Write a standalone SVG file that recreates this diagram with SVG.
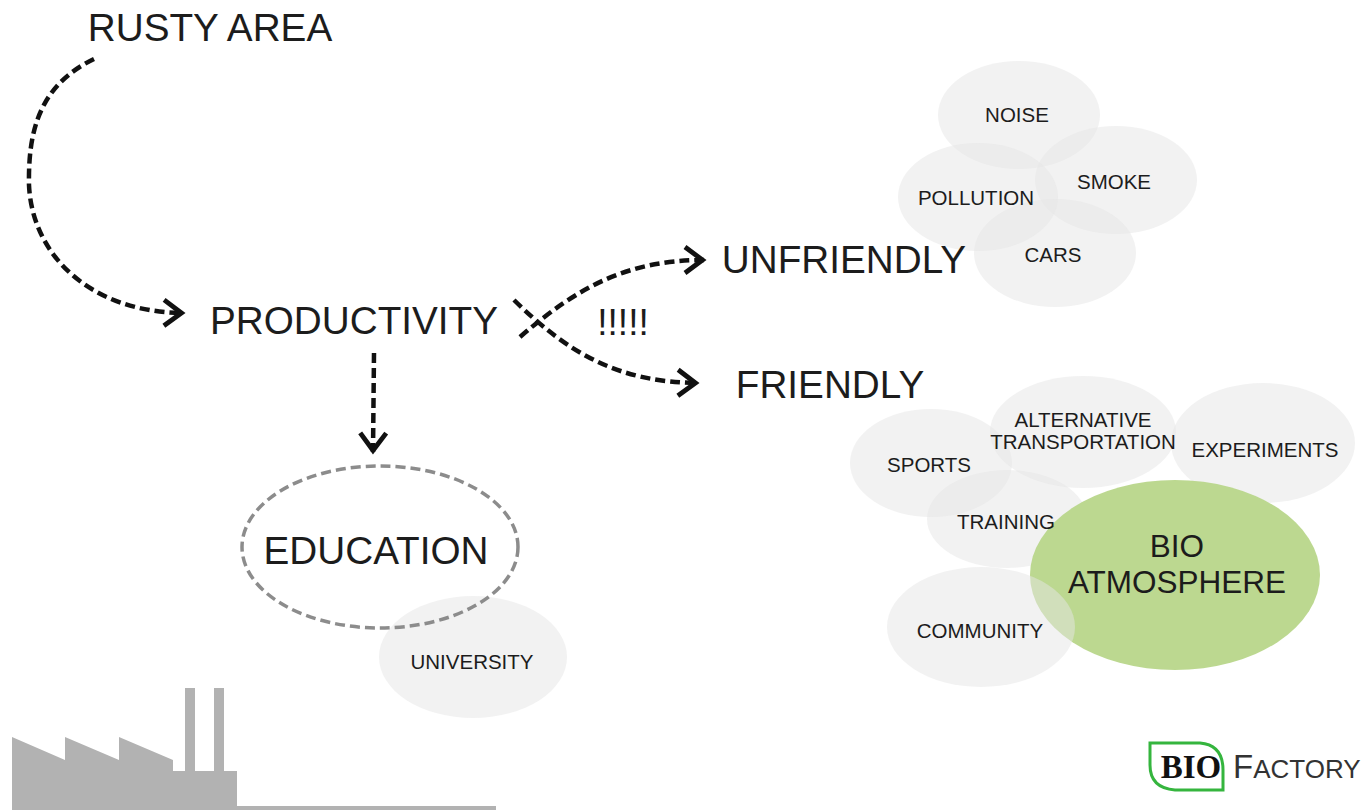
<svg xmlns="http://www.w3.org/2000/svg" width="1364" height="811" viewBox="0 0 1364 811">
<defs>
<marker id="arr" markerUnits="userSpaceOnUse" markerWidth="30" markerHeight="34" refX="27" refY="15" orient="auto" overflow="visible"><path d="M8 2 L25.500 15 L8 28" fill="none" stroke="#111" stroke-width="4.800"/></marker>
</defs>
<style>
text{font-family:"Liberation Sans",Arial,sans-serif;fill:#1c1c1c;text-anchor:middle}
.big{font-size:38.700px}
.sm{font-size:20.500px}
.bm{font-size:31.500px}
.b{fill:#e6e6e6;fill-opacity:.5}
.c{fill:none;stroke:#111;stroke-width:4.500;stroke-dasharray:10 5}
</style>
<rect width="1364" height="811" fill="#fff"/>
<g id="factory"><path d="M12 737 L65 760 L65 737 L119 760 L119 737 L173 760 L173 771 L185 771 L185 688 L195 688 L195 771 L214 771 L214 688 L224 688 L224 771 L237 771 L237 806 L496 806 L496 810 L12 810 Z" fill="#b2b2b2"/></g>
<g id="connectors">
<path class="c" d="M94 59 C40 85 28 130 29 185 C32 255 90 312 183 313" marker-end="url(#arr)"/>
<path class="c" d="M374 353 L373 452" marker-end="url(#arr)"/>
<path class="c" d="M520 337 C580 285 630 260 704 260" marker-end="url(#arr)"/>
<path class="c" d="M514 300 C570 355 620 382 697 383" marker-end="url(#arr)"/>
</g>
<g id="rusty"><text class="big" x="210" y="40.500">RUSTY AREA</text></g>
<g id="productivity"><text class="big" x="354" y="333.500">PRODUCTIVITY</text></g>
<g id="marks"><text x="623" y="335" font-size="37">!!!!!</text></g>
<g id="noise"><ellipse class="b" cx="1019" cy="115" rx="81" ry="54"/><text class="sm" x="1017" y="122">NOISE</text></g>
<g id="smoke"><ellipse class="b" cx="1116" cy="180" rx="81" ry="54"/><text class="sm" x="1114" y="189">SMOKE</text></g>
<g id="cars"><ellipse class="b" cx="1055" cy="253" rx="81" ry="54"/><text class="sm" x="1053" y="262">CARS</text></g>
<g id="pollution"><ellipse class="b" cx="978" cy="197" rx="80" ry="54"/><text class="sm" x="976" y="205">POLLUTION</text></g>
<g id="unfriendly"><text class="big" x="844" y="272.500">UNFRIENDLY</text></g>
<g id="friendly"><text class="big" x="830" y="397.500">FRIENDLY</text></g>
<g id="experiments"><ellipse class="b" cx="1263" cy="443" rx="92" ry="60"/><text class="sm" x="1265" y="457">EXPERIMENTS</text></g>
<g id="training"><ellipse class="b" cx="1007" cy="519" rx="80" ry="49"/></g>
<g id="sports"><ellipse class="b" cx="931" cy="463" rx="81" ry="54"/><text class="sm" x="929" y="472">SPORTS</text></g>
<g id="alt"><ellipse class="b" cx="1083" cy="432" rx="93" ry="56"/><text class="sm" x="1083" y="427">ALTERNATIVE</text><text class="sm" x="1083" y="449">TRANSPORTATION</text></g>
<g id="bio"><ellipse cx="1175" cy="575" rx="145" ry="95" fill="#b8d68a" fill-opacity=".95"/><text class="bm" x="1177" y="557">BIO</text><text class="bm" x="1177" y="593">ATMOSPHERE</text></g>
<g id="training-label"><text class="sm" x="1006" y="529">TRAINING</text></g>
<g id="community"><ellipse class="b" cx="981" cy="627" rx="94" ry="60"/><text class="sm" x="980" y="638">COMMUNITY</text></g>
<g id="university"><ellipse class="b" cx="473" cy="657" rx="94" ry="61"/><text class="sm" x="472" y="669">UNIVERSITY</text></g>
<g id="education"><ellipse cx="380" cy="547" rx="138" ry="81" fill="none" stroke="#8c8c8c" stroke-width="3.500" stroke-dasharray="10 5"/><text class="big" x="376" y="563.500">EDUCATION</text></g>
<g id="logo"><path d="M1150 743 L1200 743 Q1223 745 1223 770 L1223 790 L1175 790 Q1150 788 1150 765 Z" fill="none" stroke="#35b53e" stroke-width="3"/><text x="1191" y="778" style="font-size:33px;font-weight:700;font-family:'Liberation Serif',serif;fill:#111">BIO</text><text x="1233" y="778" style="font-size:33px;fill:#333;text-anchor:start">F<tspan style="font-size:26px">ACTORY</tspan></text></g>
</svg>
